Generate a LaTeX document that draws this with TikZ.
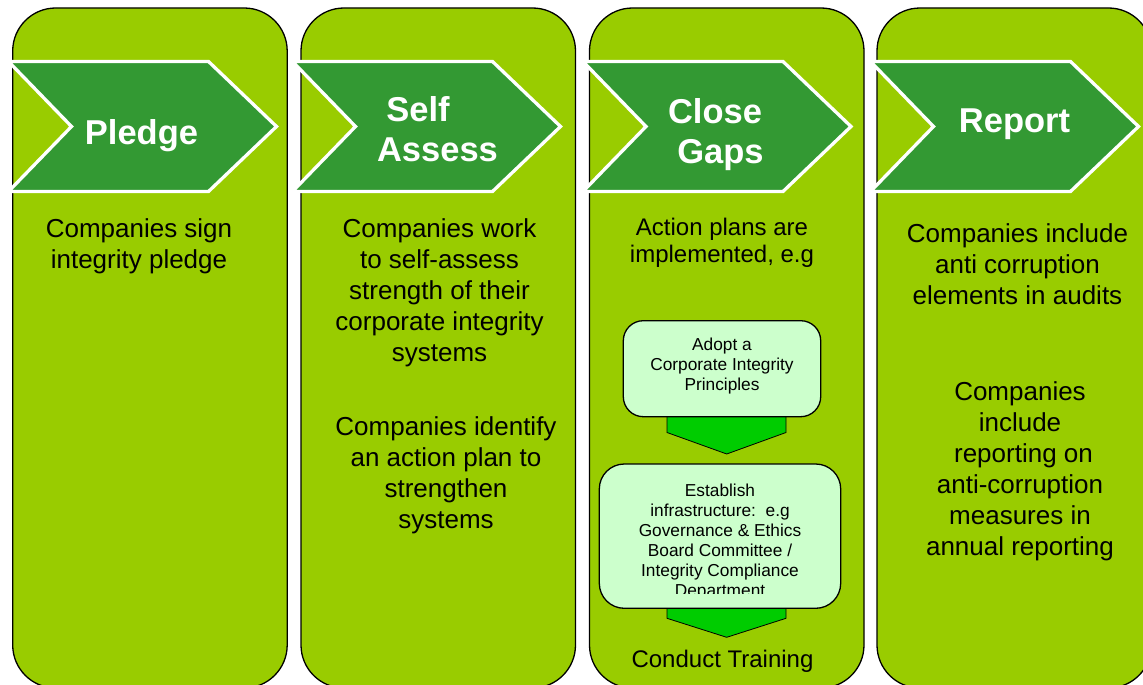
\documentclass[tikz,border=0pt]{standalone}
\usepackage{fontspec}
\setmainfont{Liberation Sans}
\definecolor{panelgreen}{HTML}{99CC00}
\definecolor{chevgreen}{HTML}{339933}
\definecolor{boxgreen}{HTML}{CCFFCC}
\definecolor{arrowgreen}{HTML}{00CC00}
\tikzset{
  panel/.style={draw=black, line width=1.3pt, fill=panelgreen, rounded corners=43pt},
  chev/.style={draw=white, line width=3.3pt, fill=chevgreen, miter limit=10},
  chevlabel/.style={text=white, font=\fontsize{34.5}{40}\selectfont\bfseries, align=center, inner sep=0pt, anchor=base},
  body/.style={font=\fontsize{26}{31}\selectfont, align=center, inner sep=0pt, anchor=base},
  midbody/.style={font=\fontsize{24}{27}\selectfont, align=center, inner sep=0pt, anchor=base},
  smallbody/.style={font=\fontsize{17.3}{20}\selectfont, align=center, inner sep=0pt, anchor=base},
  stepbox/.style={draw=black, line width=1.3pt, fill=boxgreen},
  downarrow/.style={draw=black, line width=0.8pt, fill=arrowgreen},
}
\newcommand\chevshape[1]{%
  \draw[chev] (#1,61.5) -- ++(200,0) -- ++(68,65) -- ++(-68,65) -- ++(-200,0) -- ++(63,-65) -- cycle;}
\begin{document}
\begin{tikzpicture}[x=1pt,y=-1pt]
\clip (0,0) rectangle (1143,685);
\fill[white] (0,0) rectangle (1143,685);
% panels
\draw[panel] (12.7,8) rectangle (287.2,688);
\draw[panel] (301,8) rectangle (575.5,688);
\draw[panel] (589.5,8) rectangle (864,688);
\draw[panel] (877,8) rectangle (1151.5,688);
% chevrons
\chevshape{8.5}
\chevshape{292.5}
\chevshape{583}
\chevshape{870.5}
\node[chevlabel] (pledge) at (141.5,144) {Pledge};
\node[chevlabel] (assess) at (437.5,161.7) {Self\hspace*{39pt}\\Assess};
\node[chevlabel] (gaps) at (715,163.5) {Close\\\hspace*{11pt}Gaps};
\node[chevlabel] (report) at (1014.5,132.7) {Report};
% panel 1
\node[body] (p1) at (139,268.7) {Companies sign\\integrity pledge};
% panel 2
\node[body] (p2a) at (439.5,361.7) {Companies work\\to self-assess\\strength of their\\corporate integrity\\systems};
\node[body] (p2b) at (446,528.7) {Companies identify\\an action plan to\\strengthen\\systems};
% panel 3
\node[midbody] (p3) at (722,262) {Action plans are\\implemented, e.g};
\draw[downarrow] (667,405) -- (786,405) -- (786,432.5) -- (726.7,454) -- (667,432.5) -- cycle;
\draw[downarrow] (667,590) -- (786,590) -- (786,618.3) -- (726.7,637.3) -- (667,618.3) -- cycle;
\draw[stepbox, rounded corners=20pt] (623.3,320.7) rectangle (820.7,416.7);
\node[smallbody] (adopt) at (722,390) {Adopt a\\Corporate Integrity\\Principles};
\draw[stepbox, rounded corners=25pt] (599.3,464) rectangle (840.7,608.3);
\begin{scope}
  \clip (600,465) rectangle (840,593.3);
  \node[smallbody] (infra) at (720,596.7) {Establish\\infrastructure:\ \ e.g\\Governance \& Ethics\\Board Committee /\\Integrity Compliance\\Department};
\end{scope}
\node[midbody] (training) at (722.5,667) {Conduct Training};
% panel 4
\node[body] (p4a) at (1017.5,304.7) {Companies include\\anti corruption\\elements in audits};
\node[body] (p4b) at (1020,555) {Companies\\include\\\hspace*{7pt}reporting on\\anti-corruption\\measures in\\annual reporting};
\end{tikzpicture}
\end{document}
